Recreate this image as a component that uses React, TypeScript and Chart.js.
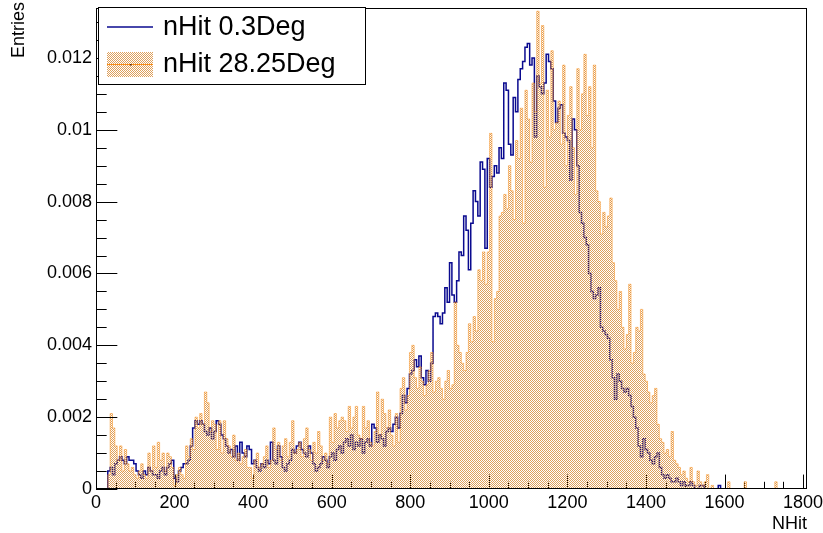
import React, { useEffect, useRef } from "react";
import { Chart, registerables } from "chart.js";

Chart.register(...registerables);

// ---- data (values in units of 1e-4 Entries, bins of width 6 starting at NHit = 30) ----
const binStart = 30;
const binWidth = 6;
const valueUnit = 1e-4;
const xMin = 0;
const xMax = 1810;
const yMin = 0;
const yMax = 0.01339;

const seriesNames = ["nHit 0.3Deg", "nHit 28.25Deg"];

const xTickValues = [0, 200, 400, 600, 800, 1000, 1200, 1400, 1600, 1800];
const xTickLabels = ["0", "200", "400", "600", "800", "1000", "1200", "1400", "1600", "1800"];
const yTickValues = [0, 0.002, 0.004, 0.006, 0.008, 0.01, 0.012];
const yTickLabels = ["0", "0.002", "0.004", "0.006", "0.008", "0.01", "0.012"];
const xTitle = "NHit";
const yTitle = "Entries";

const nHit03Deg = [
  5, 6, 4, 7, 8, 9, 8, 7, 9, 8,
  8, 7, 5, 4, 3, 5, 4, 6, 5, 4,
  4, 3, 5, 6, 4, 6, 7, 8, 3, 2,
  5, 6, 7, 7, 8, 12, 17, 19, 18, 19,
  18, 16, 15, 17, 14, 16, 19, 18, 15, 14,
  12, 10, 11, 9, 12, 8, 13, 10, 9, 12,
  11, 7, 8, 6, 5, 7, 6, 8, 7, 13,
  8, 7, 12, 9, 6, 5, 7, 8, 11, 10,
  12, 13, 11, 10, 9, 12, 10, 7, 5, 6,
  7, 9, 8, 6, 9, 10, 8, 11, 12, 10,
  13, 14, 12, 15, 11, 13, 12, 14, 10, 13,
  14, 12, 18, 17, 13, 15, 14, 12, 16, 17,
  16, 18, 20, 17, 21, 26, 24, 28, 32, 33,
  36, 34, 37, 31, 29, 33, 30, 35, 48, 49,
  48, 46, 49, 56, 52, 63, 54, 52, 58, 66,
  65, 76, 72, 61, 74, 83, 80, 76, 91, 89,
  67, 92, 84, 87, 90, 88, 95, 92, 113, 111,
  96, 93, 109, 105, 114, 117, 119, 123, 124, 118,
  120, 98, 115, 112, 110, 113, 121, 119, 117, 108,
  102, 106, 107, 99, 98, 97, 86, 103, 100, 90,
  77, 74, 70, 68, 60, 55, 53, 54, 56, 45,
  44, 43, 42, 36, 31, 25, 32, 30, 28, 27,
  28, 26, 23, 20, 17, 12, 9, 14, 11, 10,
  8, 7, 9, 10, 6, 4, 3, 4, 3, 2,
  2, 3, 2, 1, 2, 1, 1, 2, 1, 0,
  0, 1, 1, 0, 0, 0, 0, 0, 0, 1,
];

const nHit2825Deg = [
  4, 21, 17, 12, 8, 12, 5, 11, 7, 5,
  6, 4, 3, 5, 7, 4, 3, 10, 5, 12,
  6, 13, 8, 10, 5, 10, 9, 6, 1, 4,
  6, 4, 3, 12, 9, 14, 11, 20, 17, 21,
  18, 27, 24, 16, 19, 18, 11, 19, 10, 19,
  14, 12, 9, 15, 8, 10, 7, 9, 11, 6,
  6, 3, 8, 10, 6, 7, 9, 12, 6, 8,
  17, 11, 13, 8, 12, 14, 9, 13, 19, 10,
  11, 13, 9, 14, 17, 11, 8, 13, 10, 16,
  12, 8, 10, 7, 20, 13, 21, 17, 19, 20,
  19, 16, 23, 17, 20, 23, 15, 14, 23, 17,
  19, 13, 12, 16, 27, 15, 25, 21, 17, 22,
  15, 12, 21, 13, 28, 31, 22, 26, 38, 40,
  31, 28, 34, 30, 26, 29, 33, 38, 27, 30,
  31, 28, 25, 30, 33, 28, 29, 52, 40, 38,
  35, 33, 38, 46, 41, 48, 44, 61, 58, 66,
  57, 66, 99, 41, 53, 55, 76, 77, 82, 78,
  90, 83, 75, 97, 92, 106, 74, 111, 103, 91,
  113, 105, 133, 113, 129, 84, 111, 98, 122, 100,
  102, 108, 96, 118, 90, 104, 112, 95, 82, 117,
  100, 110, 121, 104, 112, 95, 118, 83, 80, 71,
  77, 73, 76, 81, 63, 58, 50, 55, 45, 39,
  43, 57, 35, 38, 45, 44, 50, 32, 30, 27,
  24, 26, 28, 18, 14, 13, 10, 11, 9, 16,
  8, 7, 6, 4, 5, 3, 2, 6, 2, 1,
  5, 2, 1, 2, 4, 0, 1, 0, 0, 0,
  0, 0, 0, 2, 0, 0, 0, 0, 0, 0,
  2, 0, 0, 0, 0, 0, 0, 0, 0, 0,
  0, 0, 0, 2,
];

// ---- styles ----
const BLUE = "#0a0a8f";
const ORANGE_LINE = "rgba(250,140,20,0.5)";
const ORANGE_DOT = "rgb(222,160,92)";
const FONT = "'Liberation Sans', Arial, Helvetica, sans-serif";

function toSteps(vals: number[]) {
  const pts: { x: number; y: number }[] = [{ x: xMin, y: 0 }];
  vals.forEach((v, i) => pts.push({ x: binStart + i * binWidth, y: v * valueUnit }));
  pts.push({ x: binStart + vals.length * binWidth, y: 0 });
  pts.push({ x: xMax, y: 0 });
  return pts;
}

function makePattern(ctx: CanvasRenderingContext2D) {
  const c = document.createElement("canvas");
  c.width = 2;
  c.height = 2;
  const g = c.getContext("2d")!;
  g.fillStyle = ORANGE_DOT;
  g.fillRect(0, 0, 1, 1);
  g.fillRect(1, 1, 1, 1);
  return ctx.createPattern(c, "repeat")!;
}

const rootStylePlugin = {
  id: "rootStyle",
  beforeDatasetsDraw(chart: any) {
    const { ctx, chartArea } = chart;
    const xs = chart.scales.x;
    const h = chartArea.bottom - chartArea.top;
    ctx.save();
    ctx.strokeStyle = "#000";
    ctx.lineWidth = 1;
    for (let v = 0; v <= 1800; v += 50) {
      const px = Math.round(xs.getPixelForValue(v)) + 0.5;
      const len = v % 200 === 0 ? h * 0.03 : h * 0.015;
      ctx.beginPath();
      ctx.moveTo(px, chartArea.bottom);
      ctx.lineTo(px, chartArea.bottom - len);
      ctx.stroke();
    }
    ctx.restore();
  },
  afterDatasetsDraw(chart: any) {
    const { ctx, chartArea } = chart;
    const xs = chart.scales.x;
    const ys = chart.scales.y;
    const w = chartArea.right - chartArea.left;
    ctx.save();
    ctx.strokeStyle = "#000";
    ctx.lineWidth = 1;
    const l = Math.round(chartArea.left) + 0.5;
    const r = Math.round(chartArea.right) - 0.5;
    const t = Math.round(chartArea.top) + 0.5;
    const b = Math.round(chartArea.bottom) - 0.5;
    ctx.strokeRect(l, t, r - l, b - t);
    for (let k = 0; k * 0.0005 <= yMax + 1e-9; k++) {
      const v = k * 0.0005;
      const py = Math.round(ys.getPixelForValue(v)) + 0.5;
      const len = k % 4 === 0 ? w * 0.03 : w * 0.015;
      ctx.beginPath();
      ctx.moveTo(chartArea.left, py);
      ctx.lineTo(chartArea.left + len, py);
      ctx.stroke();
    }
    ctx.fillStyle = "#000";
    ctx.font = `18px ${FONT}`;
    ctx.textAlign = "center";
    ctx.textBaseline = "middle";
    xTickValues.forEach((v, i) => {
      ctx.fillText(xTickLabels[i], xs.getPixelForValue(v), 503);
    });
    ctx.textAlign = "right";
    yTickValues.forEach((v, i) => {
      ctx.fillText(yTickLabels[i], 92, ys.getPixelForValue(v));
    });
    ctx.textAlign = "right";
    ctx.fillText(xTitle, chartArea.right, 524);
    ctx.save();
    ctx.translate(19, 2);
    ctx.rotate(-Math.PI / 2);
    ctx.textAlign = "right";
    ctx.textBaseline = "middle";
    ctx.fillText(yTitle, 0, 0);
    ctx.restore();

    // legend
    const lx = 98.5, ly = 7.5, lw = 267, lh = 77;
    ctx.fillStyle = "#fff";
    ctx.fillRect(lx, ly, lw, lh);
    ctx.strokeStyle = "#000";
    ctx.strokeRect(lx, ly, lw, lh);
    ctx.strokeStyle = BLUE;
    ctx.lineWidth = 1.5;
    ctx.beginPath();
    ctx.moveTo(107, 27);
    ctx.lineTo(153, 27);
    ctx.stroke();
    ctx.fillStyle = makePattern(ctx);
    ctx.fillRect(107, 52, 46, 25);
    ctx.strokeStyle = "rgb(250,140,20)";
    ctx.lineWidth = 1;
    ctx.beginPath();
    ctx.moveTo(107, 64.5);
    ctx.lineTo(153, 64.5);
    ctx.stroke();
    ctx.fillStyle = "#552200";
    ctx.fillRect(130, 64, 1.5, 1.5);
    ctx.fillStyle = "#000";
    ctx.font = `27px ${FONT}`;
    ctx.textAlign = "left";
    ctx.textBaseline = "middle";
    ctx.fillText(seriesNames[0], 163, 28);
    ctx.fillText(seriesNames[1], 163, 65);
    ctx.restore();
  },
};

export default function App() {
  const ref = useRef<HTMLCanvasElement | null>(null);
  useEffect(() => {
    const canvas = ref.current!;
    const ctx = canvas.getContext("2d")!;
    const pattern = makePattern(ctx);
    const chart = new Chart(ctx, {
      type: "line",
      data: {
        datasets: [
          {
            label: seriesNames[1],
            data: toSteps(nHit2825Deg),
            stepped: true,
            borderColor: ORANGE_LINE,
            borderWidth: 1,
            backgroundColor: pattern as any,
            fill: "origin",
            pointRadius: 0,
            tension: 0,
            order: 0,
          },
          {
            label: seriesNames[0],
            data: toSteps(nHit03Deg),
            stepped: true,
            borderColor: BLUE,
            borderWidth: 1.5,
            fill: false,
            pointRadius: 0,
            tension: 0,
            order: 1,
          },
        ],
      },
      options: {
        animation: false,
        responsive: false,
        devicePixelRatio: 1,
        events: [],
        layout: { padding: { left: 96, right: 16, top: 8, bottom: 44 } },
        plugins: { legend: { display: false }, tooltip: { enabled: false } },
        scales: {
          x: { type: "linear", min: xMin, max: xMax, display: false },
          y: { type: "linear", min: yMin, max: yMax, display: false },
        },
      },
      plugins: [rootStylePlugin],
    });
    return () => chart.destroy();
  }, []);
  return (
    <div style={{ position: "fixed", left: 0, top: 0, width: 823, height: 533, background: "#fff" }}>
      <canvas ref={ref} width={823} height={533} style={{ width: 823, height: 533, display: "block" }} />
    </div>
  );
}
